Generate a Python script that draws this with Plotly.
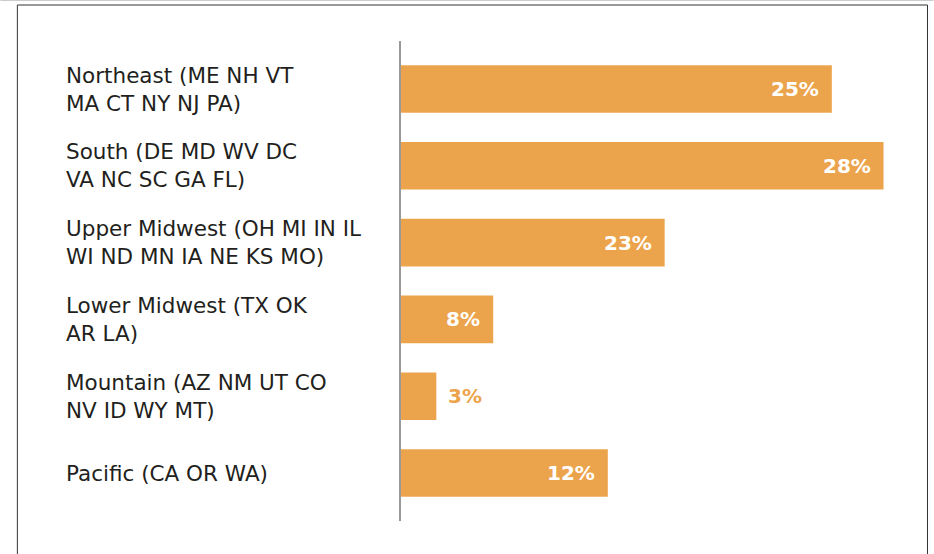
import plotly.graph_objects as go

# ---- data ----
regions = [
    "Northeast (ME NH VT<br>MA CT NY NJ PA)",
    "South (DE MD WV DC<br>VA NC SC GA FL)",
    "Upper Midwest (OH MI IN IL<br>WI ND MN IA NE KS MO)",
    "Lower Midwest (TX OK<br>AR LA)",
    "Mountain (AZ NM UT CO<br>NV ID WY MT)",
    "Pacific (CA OR WA)",
]
# bar lengths as drawn in the picture (percent scale)
bar_values = [25.0, 28.0, 15.3, 5.35, 2.05, 12.0]
value_labels = ["25%", "28%", "23%", "8%", "3%", "12%"]

# ---- style ----
W, H = 934, 554
ML, MR, MT, MB = 401, 15.5, 41, 33
BAR_COLOR = "#ECA44C"
TEXT_COLOR = "#231F20"
FONT = "DejaVu Sans"
XMAX = 30.0

plot_w = W - ML - MR
plot_h = H - MT - MB

ypos = list(range(len(regions)))

fig = go.Figure()
fig.add_trace(go.Bar(
    x=bar_values, y=ypos, orientation="h",
    marker=dict(color=BAR_COLOR, line=dict(width=0)),
    width=0.62, hoverinfo="skip",
))

annotations = []
for i, (name, v, lab) in enumerate(zip(regions, bar_values, value_labels)):
    annotations.append(dict(
        x=(64 - ML) / plot_w, xref="paper", y=i, yref="y",
        text=name, showarrow=False, xanchor="left", yanchor="middle",
        align="left", font=dict(family=FONT, size=21.5, color=TEXT_COLOR),
    ))
    inside = v > 4
    annotations.append(dict(
        x=v, xref="x", y=i, yref="y", text="<b>%s</b>" % lab, showarrow=False,
        xanchor="right" if inside else "left", yanchor="middle",
        xshift=-11 if inside else 10,
        font=dict(family=FONT, size=20, color="white" if inside else BAR_COLOR),
    ))

def px_to_paper_x(p):
    return (p - ML) / plot_w

def px_to_paper_y(p):
    return (H - MB - p) / plot_h

shapes = [
    dict(type="rect", xref="paper", yref="paper",
         x0=px_to_paper_x(17), x1=px_to_paper_x(928),
         y0=px_to_paper_y(580), y1=px_to_paper_y(5),
         line=dict(color="#333333", width=1), fillcolor="rgba(0,0,0,0)", layer="below"),
    dict(type="line", xref="paper", yref="paper",
         x0=px_to_paper_x(0), x1=px_to_paper_x(934),
         y0=px_to_paper_y(0.5), y1=px_to_paper_y(0.5),
         line=dict(color="#CCCCCC", width=1)),
]

fig.update_layout(
    width=W, height=H,
    margin=dict(l=ML, r=MR, t=MT, b=MB, pad=0),
    paper_bgcolor="white", plot_bgcolor="white",
    showlegend=False,
    xaxis=dict(range=[0, XMAX], visible=False, fixedrange=True),
    yaxis=dict(range=[len(regions) - 0.375, -0.625], showticklabels=False,
               showgrid=False, zeroline=False, ticks="",
               showline=True, linecolor="#999999", linewidth=2, fixedrange=True),
    annotations=annotations, shapes=shapes,
)

fig.write_html(
    "out.html",
    config={"displayModeBar": False},
    post_script="document.body.style.margin='0px';document.body.style.overflow='hidden';",
)
